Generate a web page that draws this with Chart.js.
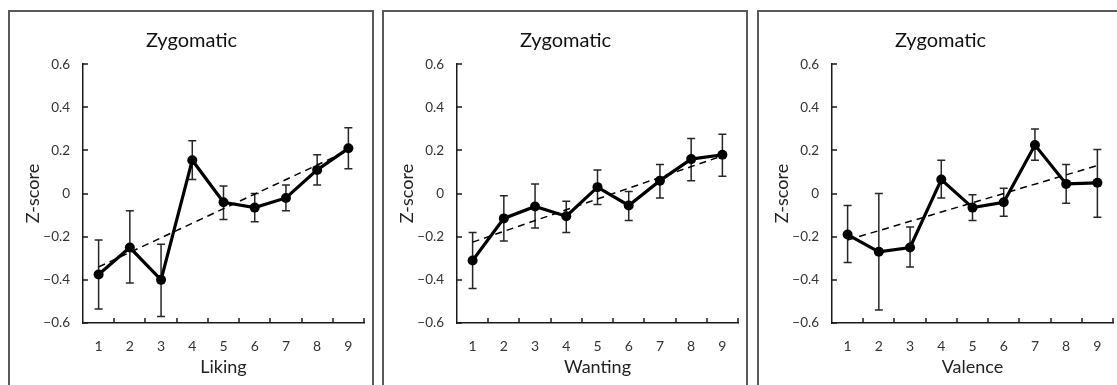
<!DOCTYPE html>
<html>
<head>
<meta charset="utf-8">
<script src="https://cdn.jsdelivr.net/npm/chart.js@4.4.1/dist/chart.umd.min.js"></script>
<style>
  html, body { margin: 0; padding: 0; background: #fff; overflow: hidden; }
  body { width: 1117px; height: 385px; position: relative; }
  .panel { position: absolute; top: 10px; width: 362px; height: 373px; border: 2px solid #595959; }
  .panel canvas { display: block; }
</style>
</head>
<body>
<div class="panel" style="left:8px"><canvas id="likingChart" width="362" height="373"></canvas></div>
<div class="panel" style="left:382px"><canvas id="wantingChart" width="362" height="373"></canvas></div>
<div class="panel" style="left:757px"><canvas id="valenceChart" width="362" height="373"></canvas></div>
<script>
const categories = ['1', '2', '3', '4', '5', '6', '7', '8', '9'];
const yTicks = [-0.6, -0.4, -0.2, 0, 0.2, 0.4, 0.6];

// Liking
const likingMean = [-0.375, -0.25, -0.40, 0.155, -0.04, -0.065, -0.02, 0.11, 0.21];
const likingHigh = [-0.215, -0.08, -0.235, 0.245, 0.035, 0.0, 0.04, 0.18, 0.305];
const likingLow = [-0.535, -0.415, -0.57, 0.065, -0.12, -0.13, -0.08, 0.04, 0.115];
const likingTrend = [-0.34, 0.20];

// Wanting
const wantingMean = [-0.31, -0.115, -0.06, -0.105, 0.03, -0.055, 0.06, 0.16, 0.18];
const wantingHigh = [-0.18, -0.01, 0.045, -0.035, 0.11, 0.01, 0.135, 0.255, 0.275];
const wantingLow = [-0.44, -0.22, -0.16, -0.18, -0.05, -0.125, -0.02, 0.06, 0.08];
const wantingTrend = [-0.225, 0.175];

// Valence
const valenceMean = [-0.19, -0.27, -0.25, 0.065, -0.065, -0.04, 0.225, 0.045, 0.05];
const valenceHigh = [-0.055, 0.0, -0.155, 0.155, -0.005, 0.025, 0.30, 0.135, 0.205];
const valenceLow = [-0.32, -0.54, -0.34, -0.02, -0.125, -0.105, 0.155, -0.045, -0.11];
const valenceTrend = [-0.215, 0.13];

const FONT = "Lato, 'Liberation Sans', sans-serif";

// error bars + inward tick marks, all placed through the chart's scales
const errorBarPlugin = {
    id: 'errorBars',
    beforeDatasetsDraw(chart, args, opts) {
        const ctx = chart.ctx;
        const x = chart.scales.x;
        const y = chart.scales.y;
        ctx.save();
        ctx.strokeStyle = '#262626';
        ctx.lineWidth = 1.5;
        opts.high.forEach((hi, i) => {
            const px = x.getPixelForValue(i);
            const top = y.getPixelForValue(hi);
            const bot = y.getPixelForValue(opts.low[i]);
            ctx.beginPath();
            ctx.moveTo(px, top);
            ctx.lineTo(px, bot);
            ctx.moveTo(px - 4, top);
            ctx.lineTo(px + 4, top);
            ctx.moveTo(px - 4, bot);
            ctx.lineTo(px + 4, bot);
            ctx.stroke();
        });
        ctx.restore();
    },
    afterDraw(chart) {
        const ctx = chart.ctx;
        const x = chart.scales.x;
        const y = chart.scales.y;
        const area = chart.chartArea;
        const half = (x.getPixelForValue(1) - x.getPixelForValue(0)) / 2;
        ctx.save();
        ctx.strokeStyle = '#1a1a1a';
        ctx.lineWidth = 1.5;
        ctx.beginPath();
        categories.forEach((c, i) => {
            const px = Math.round(x.getPixelForValue(i) + half);
            ctx.moveTo(px, area.bottom);
            ctx.lineTo(px, area.bottom - 5);
        });
        yTicks.forEach(v => {
            const py = Math.round(y.getPixelForValue(v));
            ctx.moveTo(area.left, py);
            ctx.lineTo(area.left + 5, py);
        });
        ctx.stroke();
        ctx.restore();
    }
};

function makeChart(id, xTitle, mean, high, low, trend) {
    const trendData = categories.map((c, i) => i === 0 ? trend[0] : (i === categories.length - 1 ? trend[1] : null));
    return new Chart(document.getElementById(id), {
        type: 'line',
        plugins: [errorBarPlugin],
        data: {
            labels: categories,
            datasets: [{
                label: 'Mean',
                data: mean,
                borderColor: '#000',
                backgroundColor: '#000',
                borderWidth: 3.2,
                pointRadius: 5,
                pointBorderWidth: 0,
                tension: 0,
                order: 1
            }, {
                label: 'Trend',
                data: trendData,
                borderColor: '#000',
                borderWidth: 1.5,
                borderDash: [7, 5],
                pointRadius: 0,
                spanGaps: true,
                order: 2
            }]
        },
        options: {
            responsive: false,
            devicePixelRatio: 1,
            animation: false,
            layout: { padding: { left: 9, right: 8, top: 0, bottom: 0 } },
            plugins: {
                legend: { display: false },
                tooltip: { enabled: false },
                title: {
                    display: true,
                    text: 'Zygomatic',
                    color: '#111',
                    font: { family: FONT, size: 20, weight: 'normal' },
                    padding: { top: 17, bottom: 11.2 }
                },
                errorBars: { high: high, low: low }
            },
            scales: {
                x: {
                    type: 'category',
                    offset: true,
                    grid: { display: false, drawTicks: false },
                    border: { display: true, color: '#1a1a1a', width: 1.5 },
                    ticks: { color: '#333', font: { family: FONT, size: 14 }, padding: 15, maxRotation: 0 },
                    title: {
                        display: true,
                        text: xTitle,
                        color: '#222',
                        font: { family: FONT, size: 18 },
                        padding: { top: 0, bottom: 7 }
                    },
                    afterFit(scale) { scale.height = 62; }
                },
                y: {
                    min: -0.6,
                    max: 0.6,
                    grid: { display: false, drawTicks: false },
                    border: { display: true, color: '#1a1a1a', width: 1.5 },
                    afterBuildTicks(scale) { scale.ticks = yTicks.map(v => ({ value: v })); },
                    ticks: {
                        color: '#333',
                        font: { family: FONT, size: 13.5 },
                        padding: 13,
                        callback: v => v === 0 ? '0' : (v < 0 ? '\u2212' + Math.abs(v).toFixed(1) : v.toFixed(1))
                    },
                    title: {
                        display: true,
                        text: 'Z-score',
                        color: '#222',
                        font: { family: FONT, size: 18 },
                        padding: { top: 3, bottom: 0 }
                    },
                    afterFit(scale) { scale.width = 64; }
                }
            }
        }
    });
}

makeChart('likingChart', 'Liking', likingMean, likingHigh, likingLow, likingTrend);
makeChart('wantingChart', 'Wanting', wantingMean, wantingHigh, wantingLow, wantingTrend);
makeChart('valenceChart', 'Valence', valenceMean, valenceHigh, valenceLow, valenceTrend);
</script>
</body>
</html>
